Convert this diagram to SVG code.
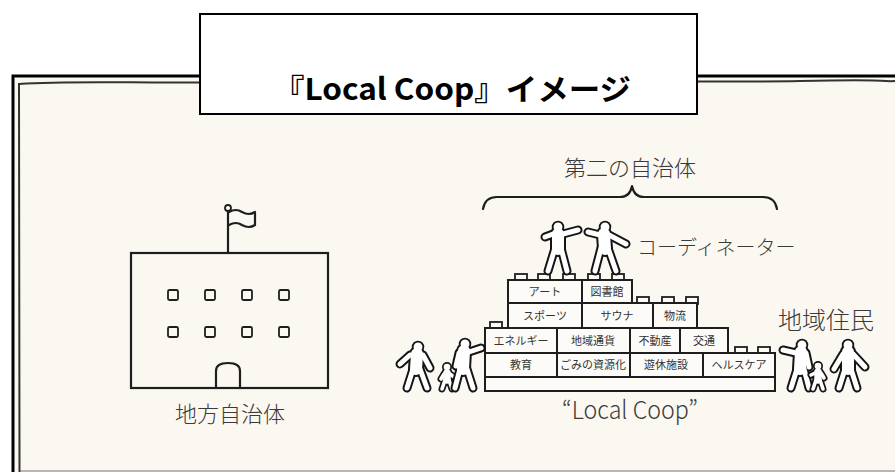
<svg xmlns="http://www.w3.org/2000/svg" width="895" height="472" viewBox="0 0 895 472">
  <style>
    .ink{fill:none;stroke:#1e1e1e;stroke-width:2.2;stroke-linejoin:round;stroke-linecap:round}
    .blk{fill:#fcfbf7;stroke:#1e1e1e;stroke-width:2}
    .stud{fill:#fcfbf7;stroke:#1e1e1e;stroke-width:1.8}
    .cell{font-family:"Noto Sans CJK JP",sans-serif;font-size:11px;fill:#333;text-anchor:middle}
    .lbl{font-family:"Noto Sans CJK JP",sans-serif;fill:#3a3a3a;font-weight:300}
    .o{fill:none;stroke:#151515;stroke-linecap:round;stroke-linejoin:round;--tw:16px;--lw:9px;--hw:12.5px;--sw:11px;--slw:7px;--shw:10px}
    .i{fill:none;stroke:#ffffff;stroke-linecap:round;stroke-linejoin:round;--tw:12px;--lw:5px;--hw:8.9px;--sw:7.4px;--slw:3.6px;--shw:6.6px}
    .t{stroke-width:var(--tw)}
    .l{stroke-width:var(--lw)}
    .h{stroke-width:var(--hw)}
    .ts{stroke-width:var(--sw)}
    .ls{stroke-width:var(--slw)}
    .hs{stroke-width:var(--shw)}
  </style>
  <defs>
    <!-- figure geometry: drawn once as outline, once as white body -->
    <g id="g-coord1">
      <path class="l" d="M545,237 L553,234 L563,234 L578,230 M555,248 L548,271 M561,248 L567,271"/>
      <path class="t" d="M558,234 L558,249"/>
      <path class="h" d="M558,227 h0.01"/>
    </g>
    <g id="g-coord2">
      <path class="l" d="M588,232 L600,235 L609,235 L626,244 M601,248 L595,271 M608,248 L616,271"/>
      <path class="t" d="M604,234 L605,249"/>
      <path class="h" d="M605,227 h0.01"/>
    </g>
    <g id="g-pa">
      <path class="l" d="M400,364 L410,355 L423,355 L430,368 M413,369 L407,388 M420,369 L427,388"/>
      <path class="t" d="M417,354 L416,369"/>
      <path class="h" d="M418,347 h0.01"/>
    </g>
    <g id="g-pb">
      <path class="ls" d="M441,379 L444,374 L450,374 L454,377 M445,380 L442,389 M449,380 L452,389"/>
      <path class="ts" d="M447,373 L447,380"/>
      <path class="hs" d="M447,367 h0.01"/>
    </g>
    <g id="g-pc">
      <path class="l" d="M456,366 L459,353 L469,352 L481,348 M460,369 L455,388 M467,369 L473,388"/>
      <path class="t" d="M464,351 L463,369"/>
      <path class="h" d="M465,344 h0.01"/>
    </g>
    <g id="g-pd">
      <path class="l" d="M783,350 L796,353 L806,353 L809,367 M797,369 L791,388 M804,369 L809,388"/>
      <path class="t" d="M801,352 L800,369"/>
      <path class="h" d="M802,345 h0.01"/>
    </g>
    <g id="g-pe">
      <path class="ls" d="M811,375 L815,373 L821,373 L824,378 M816,380 L813,389 M820,380 L823,389"/>
      <path class="ts" d="M818,372 L818,380"/>
      <path class="hs" d="M818,366 h0.01"/>
    </g>
    <g id="g-pf">
      <path class="l" d="M834,369 L843,354 L853,354 L865,367 M845,369 L839,388 M851,369 L857,388"/>
      <path class="t" d="M848,352 L848,369"/>
      <path class="h" d="M848,345 h0.01"/>
    </g>
  </defs>

  <!-- page -->
  <rect x="0" y="0" width="895" height="472" fill="#ffffff"/>
  <rect x="12" y="75" width="890" height="400" fill="#faf8f1"/>
  <path d="M13,472 V76 H895" fill="none" stroke="#000" stroke-width="3"/>
  <path d="M19.5,472 L19,84 C80,80 150,84 230,82 S400,83 500,81 S700,83 800,81 S880,82 895,81" fill="none" stroke="#333" stroke-width="2"/>
  <path d="M20,471 H895" fill="none" stroke="#666" stroke-width="1.5" opacity="0.6"/>

  <!-- title -->
  <g id="title">
    <rect x="200" y="14" width="497" height="100" fill="#fff" stroke="#000" stroke-width="2"/>
    <text x="452" y="100" text-anchor="middle" font-family="'Noto Sans CJK JP',sans-serif" font-weight="bold" font-size="30" fill="#000" textLength="358" lengthAdjust="spacingAndGlyphs">『Local Coop』イメージ</text>
  </g>

  <!-- municipal office -->
  <g id="municipality">
    <path class="ink" d="M228,253 V211"/>
    <circle cx="228" cy="208" r="3" fill="#fff" stroke="#1e1e1e" stroke-width="1.8"/>
    <path class="ink" d="M229,212 Q236,208 242,212 Q249,216 255,212 V225 Q249,229 242,225 Q236,221 229,225"/>
    <rect x="131" y="253" width="197" height="135" fill="none" stroke="#1e1e1e" stroke-width="2.2"/>
    <g fill="none" stroke="#1e1e1e" stroke-width="1.8">
      <rect x="168" y="290" width="10" height="10" rx="1.5"/>
      <rect x="205" y="290" width="10" height="10" rx="1.5"/>
      <rect x="242" y="290" width="10" height="10" rx="1.5"/>
      <rect x="279" y="290" width="10" height="10" rx="1.5"/>
      <rect x="168" y="327" width="10" height="10" rx="1.5"/>
      <rect x="205" y="327" width="10" height="10" rx="1.5"/>
      <rect x="242" y="327" width="10" height="10" rx="1.5"/>
      <rect x="279" y="327" width="10" height="10" rx="1.5"/>
    </g>
    <path class="ink" d="M216,388 V371 Q216,363 228,363 Q240,363 240,371 V388"/>
    <text class="lbl" x="230" y="422" text-anchor="middle" font-size="22">地方自治体</text>
  </g>

  <!-- second municipality label and brace -->
  <g id="second-municipality">
    <text class="lbl" x="630" y="176" text-anchor="middle" font-size="22">第二の自治体</text>
    <path class="ink" d="M483,209 Q485,197 497,197 L620,197 Q630,197 632,186 Q634,197 644,197 L763,197 Q775,197 777,209" stroke-width="2"/>
  </g>

  <!-- Local Coop blocks -->
  <g id="local-coop">
    <!-- studs -->
    <rect class="stud" x="515" y="274" width="12" height="7"/>
    <rect class="stud" x="538" y="274" width="12" height="7"/>
    <rect class="stud" x="563" y="274" width="12" height="7"/>
    <rect class="stud" x="588" y="274" width="12" height="7"/>
    <rect class="stud" x="612" y="274" width="12" height="7"/>
    <rect class="stud" x="637" y="297" width="12" height="7"/>
    <rect class="stud" x="662" y="297" width="12" height="7"/>
    <rect class="stud" x="686" y="297" width="12" height="7"/>
    <rect class="stud" x="490" y="322" width="12" height="7"/>
    <rect class="stud" x="735" y="347" width="12" height="7"/>
    <rect class="stud" x="758" y="347" width="12" height="7"/>
    <!-- rows -->
    <rect class="blk" x="508" y="280" width="74" height="23"/>
    <rect class="blk" x="582" y="280" width="50" height="23"/>
    <rect class="blk" x="508" y="303" width="74" height="25"/>
    <rect class="blk" x="582" y="303" width="71" height="25"/>
    <rect class="blk" x="653" y="303" width="44" height="25"/>
    <rect class="blk" x="485" y="328" width="72" height="25"/>
    <rect class="blk" x="557" y="328" width="73" height="25"/>
    <rect class="blk" x="630" y="328" width="50" height="25"/>
    <rect class="blk" x="680" y="328" width="48" height="25"/>
    <rect class="blk" x="485" y="353" width="72" height="24"/>
    <rect class="blk" x="557" y="353" width="73" height="24"/>
    <rect class="blk" x="630" y="353" width="73" height="24"/>
    <rect class="blk" x="703" y="353" width="72" height="24"/>
    <rect class="blk" x="485" y="377" width="290" height="14"/>
    <!-- labels -->
    <text class="cell" x="545" y="295.5">アート</text>
    <text class="cell" x="607" y="295.5">図書館</text>
    <text class="cell" x="545" y="319.5">スポーツ</text>
    <text class="cell" x="617" y="319.5">サウナ</text>
    <text class="cell" x="675" y="319.5">物流</text>
    <text class="cell" x="521" y="344.5">エネルギー</text>
    <text class="cell" x="593" y="344.5">地域通貨</text>
    <text class="cell" x="655" y="344.5">不動産</text>
    <text class="cell" x="704" y="344.5">交通</text>
    <text class="cell" x="521" y="369">教育</text>
    <text class="cell" x="593" y="369">ごみの資源化</text>
    <text class="cell" x="666" y="369">遊休施設</text>
    <text class="cell" x="739" y="369">ヘルスケア</text>
    <text class="lbl" x="630" y="419" text-anchor="middle" font-size="25" fill="#333" textLength="136" lengthAdjust="spacingAndGlyphs">“Local Coop”</text>
  </g>

  <!-- coordinators -->
  <g id="coordinator-1"><use href="#g-coord1" class="o"/><use href="#g-coord1" class="i"/></g>
  <g id="coordinator-2"><use href="#g-coord2" class="o"/><use href="#g-coord2" class="i"/></g>
  <text class="lbl" x="637" y="255" font-size="20">コーディネーター</text>

  <!-- residents -->
  <g id="resident-a"><use href="#g-pa" class="o"/><use href="#g-pa" class="i"/></g>
  <g id="resident-b"><use href="#g-pb" class="o"/><use href="#g-pb" class="i"/></g>
  <g id="resident-c"><use href="#g-pc" class="o"/><use href="#g-pc" class="i"/></g>
  <g id="resident-d"><use href="#g-pd" class="o"/><use href="#g-pd" class="i"/></g>
  <g id="resident-e"><use href="#g-pe" class="o"/><use href="#g-pe" class="i"/></g>
  <g id="resident-f"><use href="#g-pf" class="o"/><use href="#g-pf" class="i"/></g>
  <text class="lbl" x="778" y="329" font-size="24" fill="#222" font-weight="normal">地域住民</text>
</svg>
